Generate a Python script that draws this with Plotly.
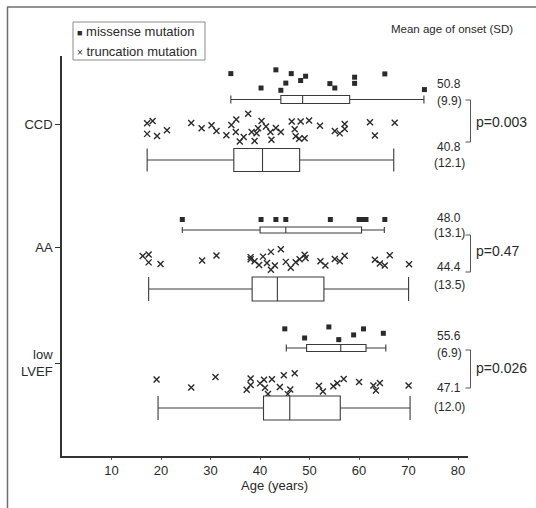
import plotly.graph_objects as go

# ---------------- data (ages in years) ----------------
categories = ["CCD", "AA", "low<br>LVEF"]

ccd_missense = [34.1, 40.2, 43.2, 44.2, 45.2, 46.3, 48.2, 49.2, 54.1, 55.1, 59.1, 59.1, 65.2, 73.2]
ccd_truncation = [17.2, 17.2, 18.3, 19.2, 21.2, 26.1, 28.2, 30.2, 31.2, 33.2, 34.2, 35.1, 35.2,
                  35.9, 36.7, 37.6, 38.3, 38.9, 39.3, 39.6, 40.3, 41.2, 42.1, 42.3, 43.2, 44.2,
                  46.4, 47.0, 47.2, 47.9, 48.2, 49.0, 49.9, 52.1, 55.1, 56.1, 57.1, 57.1, 62.2,
                  63.2, 67.2]
aa_missense = [24.3, 40.2, 43.2, 45.2, 54.2, 60.0, 60.7, 61.4, 65.2]
aa_truncation = [16.3, 17.5, 17.5, 19.9, 28.3, 31.2, 38.1, 38.1, 38.9, 39.8, 40.6, 41.4, 42.2,
                 42.2, 43.0, 44.2, 45.2, 46.2, 47.2, 48.0, 49.0, 49.2, 52.2, 53.2, 55.1, 56.1,
                 57.1, 63.2, 64.2, 65.2, 66.2, 70.1]
lvef_missense = [45.0, 49.0, 53.9, 55.9, 58.9, 60.9, 64.9]
lvef_truncation = [19.1, 26.1, 31.0, 37.3, 38.1, 38.1, 40.0, 40.8, 41.0, 41.6, 42.4, 44.0, 44.8,
                   45.6, 46.1, 47.0, 51.9, 52.7, 54.8, 55.6, 56.9, 60.0, 62.9, 63.4, 64.2, 70.0]

# box statistics: [lower whisker, q1, median, q3, upper whisker]
ccd_missense_box = [34.1, 44.2, 48.6, 58.1, 73.1]
ccd_truncation_box = [17.2, 34.7, 40.5, 48.0, 67.0]
aa_missense_box = [24.3, 40.0, 45.2, 60.5, 65.1]
aa_truncation_box = [17.5, 38.4, 43.5, 52.9, 70.0]
lvef_missense_box = [45.3, 49.4, 56.3, 61.4, 65.4]
lvef_truncation_box = [19.4, 40.7, 46.0, 56.2, 70.3]

# mean (SD) labels and p-values
missense_means = ["50.8", "48.0", "55.6"]
missense_sds = ["(9.9)", "(13.1)", "(6.9)"]
truncation_means = ["40.8", "44.4", "47.1"]
truncation_sds = ["(12.1)", "(13.5)", "(12.0)"]
p_values = ["p=0.003", "p=0.47", "p=0.026"]

x_ticks = [10, 20, 30, 40, 50, 60, 70, 80]

# ---------------- layout helpers ----------------
W, H = 536, 508
ML, MR, MT, MB = 62, 68, 56, 52
PW, PH = W - ML - MR, H - MT - MB


def xp(px):
    return (px - ML) / PW


def yp(py):
    return (H - MB - py) / PH


def yd(py):  # y data units == pixels from bottom of plot area
    return H - MB - py


INK = "#2a2a2a"
FONT = "Liberation Sans, Arial, sans-serif"

# per category layout: label, missense points, missense box, truncation points, truncation box
groups = [
    dict(label=yd(124), mp=(yd(80), 28, 1.0), mb=(yd(99.5), 8), tp=(yd(128), 32, 1.0), tb=(yd(160), 23),
         miss=ccd_missense, trunc=ccd_truncation, mbox=ccd_missense_box, tbox=ccd_truncation_box),
    dict(label=yd(247), mp=(yd(219.5), 4, 0.0), mb=(yd(230), 6), tp=(yd(259), 24, 1.0), tb=(yd(289), 24),
         miss=aa_missense, trunc=aa_truncation, mbox=aa_missense_box, tbox=aa_truncation_box),
    dict(label=yd(363), mp=(yd(333), 16, 1.0), mb=(yd(348), 7), tp=(yd(383), 30, 1.0), tb=(yd(408), 24),
         miss=lvef_missense, trunc=lvef_truncation, mbox=lvef_missense_box, tbox=lvef_truncation_box),
]

fig = go.Figure()

sq_marker = dict(symbol="square", size=5, color=INK, line=dict(width=0, color=INK))
x_marker = dict(symbol="x-thin", size=6, color=INK, line=dict(width=1.4, color=INK))

for g in groups:
    for pts, (pos, wid, jit), mk in [(g["miss"], g["mp"], sq_marker), (g["trunc"], g["tp"], x_marker)]:
        fig.add_trace(go.Box(
            x=pts, y0=pos, orientation="h", boxpoints="all", jitter=jit, pointpos=0,
            width=wid, line=dict(width=0, color="rgba(0,0,0,0)"), fillcolor="rgba(0,0,0,0)",
            marker=mk, showlegend=False, hoveron="points"))
    for stats, (pos, wid) in [(g["mbox"], g["mb"]), (g["tbox"], g["tb"])]:
        fig.add_trace(go.Box(
            y=[pos], orientation="h",
            lowerfence=[stats[0]], q1=[stats[1]], median=[stats[2]], q3=[stats[3]], upperfence=[stats[4]],
            width=wid, whiskerwidth=1, boxpoints=False, fillcolor="white",
            line=dict(width=1.1, color="#3a3a3a"), showlegend=False))

annotations = []
shapes = []

# legend (drawn as a framed box)
shapes.append(dict(type="rect", xref="paper", yref="paper", x0=xp(73), x1=xp(205), y0=yp(60), y1=yp(22),
                   line=dict(color="#8a8a8a", width=1), fillcolor="white", layer="above"))
annotations.append(dict(xref="paper", yref="paper", x=xp(75), y=yp(31.5), xanchor="left", yanchor="middle",
                        text="<span style='font-size:9px'>■</span> missense mutation", showarrow=False,
                        font=dict(size=13, color=INK, family=FONT)))
annotations.append(dict(xref="paper", yref="paper", x=xp(75), y=yp(51.5), xanchor="left", yanchor="middle",
                        text="<span style='font-size:10px'>×</span> truncation mutation", showarrow=False,
                        font=dict(size=13, color=INK, family=FONT)))

# right-hand header
annotations.append(dict(xref="paper", yref="paper", x=xp(452), y=yp(29), xanchor="center", yanchor="middle",
                        text="Mean age of onset (SD)", showarrow=False,
                        font=dict(size=11.5, color=INK, family=FONT)))

# mean (SD) labels, brackets and p-values
label_rows = [(84, 101, 147, 163, 100, 142, 122),
              (218, 233, 267, 285, 235, 272, 251),
              (336, 353, 388, 406.5, 350, 388, 368)]
for i, (y_m, y_msd, y_t, y_tsd, b_top, b_bot, y_p) in enumerate(label_rows):
    for txt, yy in [(missense_means[i], y_m), (missense_sds[i], y_msd),
                    (truncation_means[i], y_t), (truncation_sds[i], y_tsd)]:
        annotations.append(dict(xref="paper", yref="paper", x=xp(449), y=yp(yy), xanchor="center",
                                yanchor="middle", text=txt, showarrow=False,
                                font=dict(size=12, color=INK, family=FONT)))
    shapes.append(dict(type="path", xref="paper", yref="paper",
                       path=f"M {xp(465.5)},{yp(b_top)} L {xp(470.5)},{yp(b_top)} L {xp(470.5)},{yp(b_bot)} L {xp(465.5)},{yp(b_bot)}",
                       line=dict(color="#555", width=1)))
    annotations.append(dict(xref="paper", yref="paper", x=xp(474), y=yp(y_p), xanchor="left", yanchor="middle",
                            text=p_values[i], showarrow=False, font=dict(size=14, color=INK, family=FONT)))

# x axis title
annotations.append(dict(xref="paper", yref="paper", x=xp(274), y=yp(485), xanchor="center", yanchor="middle",
                        text="Age (years)", showarrow=False, font=dict(size=13, color=INK, family=FONT)))

# outer picture frame (top and left edges)
shapes.append(dict(type="line", xref="paper", yref="paper", x0=xp(7), x1=xp(536), y0=yp(7), y1=yp(7),
                   line=dict(color="#6e6e6e", width=1.5)))
shapes.append(dict(type="line", xref="paper", yref="paper", x0=xp(7.5), x1=xp(7.5), y0=yp(7), y1=yp(508),
                   line=dict(color="#6e6e6e", width=1.5)))

fig.update_layout(
    width=W, height=H, margin=dict(l=ML, r=MR, t=MT, b=MB, autoexpand=False),
    paper_bgcolor="white", plot_bgcolor="white",
    font=dict(family=FONT, color=INK, size=13),
    boxmode="overlay", showlegend=False,
    annotations=annotations, shapes=shapes,
    xaxis=dict(range=[0, 82], tickvals=x_ticks, ticks="outside", ticklen=2, tickcolor="#555",
               showline=True, linecolor="#333", linewidth=1.6, showgrid=False, zeroline=False,
               tickfont=dict(size=13, color=INK, family=FONT)),
    yaxis=dict(range=[0, PH], tickvals=[g["label"] for g in groups], ticktext=categories,
               ticks="outside", ticklen=5, tickcolor="#333", showline=True, linecolor="#333",
               linewidth=1.6, showgrid=False, zeroline=False,
               tickfont=dict(size=13, color=INK, family=FONT)),
)

fig.write_html("out.html", config={"displayModeBar": False},
               post_script="document.body.style.margin='0';")
